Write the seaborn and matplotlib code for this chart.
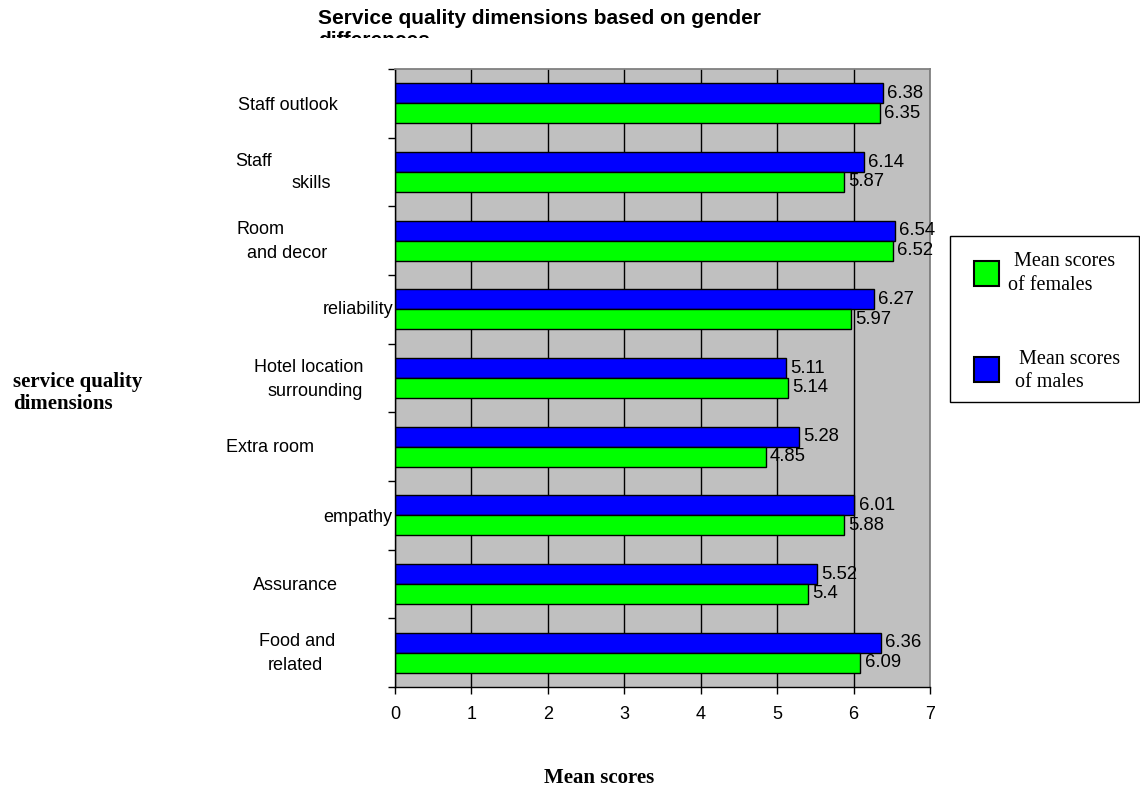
import numpy as np
import pandas as pd
import matplotlib
matplotlib.use("Agg")
import matplotlib.pyplot as plt
import seaborn as sns
from matplotlib.patches import Rectangle
from matplotlib.transforms import Bbox, TransformedBbox

# ---------------- data ----------------
categories = ["Staff outlook", "Staff skills", "Room and decor", "reliability",
              "Hotel location surrounding", "Extra room", "empathy",
              "Assurance", "Food and related"]
males = [6.38, 6.14, 6.54, 6.27, 5.11, 5.28, 6.01, 5.52, 6.36]
females = [6.35, 5.87, 6.52, 5.97, 5.14, 4.85, 5.88, 5.40, 6.09]
series_names = ["Mean scores of males", "Mean scores of females"]
legend_lines = {"Mean scores of females": ["Mean scores", "of females"],
                "Mean scores of males": ["Mean scores", "of males"]}
x_ticks = [0, 1, 2, 3, 4, 5, 6, 7]
title = "Service quality dimensions based on gender"
title_line2 = "differences"
x_label = "Mean scores"
y_label = "service quality\ndimensions"
label_lines = [["Staff outlook"], ["Staff", "skills"], ["Room", "and decor"],
               ["reliability"], ["Hotel location", "surrounding"], ["Extra room"],
               ["empathy"], ["Assurance"], ["Food and", "related"]]

# ---------------- layout (pixels) ----------------
W, H = 1140, 787
label_pos = [[(238, 105, "left")],
             [(235, 162, "left"), (291, 184, "left")],
             [(236, 230, "left"), (247, 253, "left")],
             [(393, 310, "right")],
             [(254, 368, "left"), (268, 391, "left")],
             [(226, 448, "left")],
             [(392, 518, "right")],
             [(253, 586, "left")],
             [(259, 642, "left"), (268, 665, "left")]]

sns.set_style("white")
plt.rcParams["font.family"] = ["Liberation Sans", "DejaVu Sans"]
plt.rcParams["text.color"] = "black"
plt.rcParams["axes.labelcolor"] = "black"
plt.rcParams["xtick.color"] = "black"
plt.rcParams["ytick.color"] = "black"

def fx(x):
    return x / W

def fy(y):
    return 1 - y / H

fig = plt.figure(figsize=(W / 100, H / 100), dpi=100)
ax = fig.add_axes([fx(395), fy(687), 535 / W, 618 / H])

df = pd.DataFrame({
    "category": categories * 2,
    "score": males + females,
    "series": [series_names[0]] * len(categories) + [series_names[1]] * len(categories),
})
palette = {series_names[0]: "#0000FF", series_names[1]: "#00FF00"}

sns.barplot(data=df, y="category", x="score", hue="series", hue_order=series_names,
            order=categories, palette=palette, orient="h", width=0.58,
            saturation=1, edgecolor="black", linewidth=1, errorbar=None,
            legend=False, ax=ax)

ax.set_facecolor("#C0C0C0")
ax.set_xlim(0, 7)
ax.set_ylim(len(categories) - 0.5, -0.5)
ax.set_xticks(x_ticks)
ax.set_xticklabels([str(t) for t in x_ticks])
ax.xaxis.grid(True, color="black", linewidth=1)
ax.yaxis.grid(False)
ax.set_axisbelow(True)
ax.set_yticks(np.arange(-0.5, len(categories), 1))
ax.set_yticklabels([])
ax.set_xlabel("")
ax.set_ylabel("")
ax.tick_params(axis="x", length=5, width=1, color="black", labelcolor="black",
               pad=9, labelsize=13, bottom=True, direction="out")
ax.tick_params(axis="y", length=5, width=1, color="black", left=True,
               labelleft=False, direction="out")
for s in ["left", "bottom"]:
    ax.spines[s].set_color("black")
    ax.spines[s].set_linewidth(1)
for s in ["top", "right"]:
    ax.spines[s].set_color("#808080")
    ax.spines[s].set_linewidth(1.3)
    ax.spines[s].set_visible(True)

for c in ax.containers:
    ax.bar_label(c, padding=3, fontsize=13.3, fmt="%g", color="black")

# category labels
for lines, poss in zip(label_lines, label_pos):
    for txt, (px, py, ha) in zip(lines, poss):
        fig.text(fx(px), fy(py), txt, ha=ha, va="center", fontsize=13, color="black")

# title (second line clipped like in the source)
fig.text(fx(318), fy(18), title, ha="left", va="center", fontsize=15,
         fontweight="bold", color="black")
t2 = fig.text(fx(318), fy(40), title_line2, ha="left", va="center", fontsize=15,
              fontweight="bold", color="black")
t2.set_clip_box(TransformedBbox(Bbox.from_extents(0, fy(38), 1, 1), fig.transFigure))
t2.set_clip_on(True)

# axis titles
fig.text(fx(13), fy(393), y_label, ha="left", va="center", fontsize=15,
         fontweight="bold", family="Liberation Serif", linespacing=1.1, color="black")
fig.text(fx(599), fy(778), x_label, ha="center", va="center", fontsize=15,
         fontweight="bold", family="Liberation Serif", color="black")

# legend box
fig.patches.append(Rectangle((fx(950), fy(402)), 189 / W, 166 / H, transform=fig.transFigure,
                             fill=False, edgecolor="black", linewidth=1))
leg_items = [(series_names[1], 261, [(1014, 262), (1008, 285)]),
             (series_names[0], 357, [(1019, 360), (1015, 383)])]
for name, sq_top, tpos in leg_items:
    fig.patches.append(Rectangle((fx(974), fy(sq_top + 25)), 25 / W, 25 / H,
                                 transform=fig.transFigure, facecolor=palette[name],
                                 edgecolor="black", linewidth=1.5))
    for txt, (px, py) in zip(legend_lines[name], tpos):
        fig.text(fx(px), fy(py), txt, ha="left", va="center", fontsize=14.5,
                 family="Liberation Serif", color="black")

fig.savefig("out.png", dpi=100, facecolor="white")
